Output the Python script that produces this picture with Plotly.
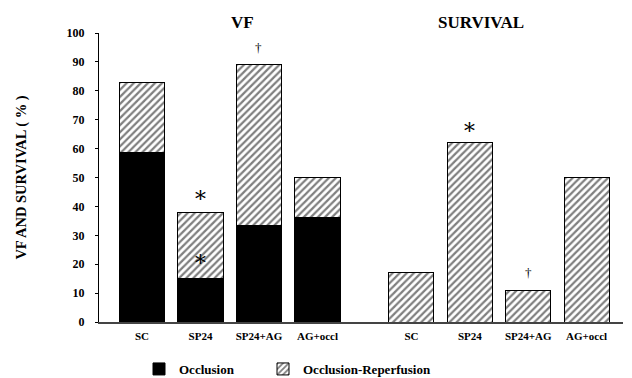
import plotly.graph_objects as go

groups = ["SC", "SP24", "SP24+AG", "AG+occl"]
vf_total = [83, 38, 89, 50]
vf_occlusion = [58.5, 15, 33.5, 36]
survival = [17, 62, 11, 50]

vf_reperf = [t - o for t, o in zip(vf_total, vf_occlusion)]

FONT = "Liberation Serif"
hatch = dict(shape="/", fgcolor="black", bgcolor="white", size=5, solidity=0.45)

fig = go.Figure()
fig.add_trace(go.Bar(x=groups, y=vf_occlusion, name="Occlusion", xaxis="x", yaxis="y",
                     marker=dict(color="black", line=dict(color="black", width=1)),
                     width=0.77, legend="legend"))
fig.add_trace(go.Bar(x=groups, y=vf_reperf, name="Occlusion-Reperfusion", xaxis="x", yaxis="y",
                     marker=dict(color="white", pattern=hatch, line=dict(color="black", width=1)),
                     width=0.77, legend="legend2"))
fig.add_trace(go.Bar(x=groups, y=survival, name="Occlusion-Reperfusion", xaxis="x2", yaxis="y",
                     marker=dict(color="white", pattern=hatch, line=dict(color="black", width=1)),
                     width=0.77, showlegend=False))

split = 265 / 524
axis_common = dict(showline=True, linecolor="#444", linewidth=1.5, ticks="", showgrid=False,
                   zeroline=False, type="category", automargin=False, ticklabelstandoff=3,
                   tickfont=dict(family=FONT, size=11, color="black", weight="bold"))
leg_font = dict(family=FONT, size=13, color="black", weight="bold")
fig.update_layout(
    width=632, height=378,
    margin=dict(l=99, r=9, t=33, b=56),
    paper_bgcolor="white", plot_bgcolor="white",
    barmode="stack",
    xaxis=dict(domain=[0, split], range=[-0.735, 3.795], **axis_common),
    xaxis2=dict(domain=[split, 1], range=[-0.812, 3.624], anchor="y", **axis_common),
    yaxis=dict(range=[0, 100], dtick=10, showline=True, linecolor="black", linewidth=1,
               ticks="outside", ticklen=3, tickcolor="black", showgrid=False, zeroline=False,
               ticklabelstandoff=8, automargin=False,
               tickfont=dict(family=FONT, size=12, color="black", weight="bold"),
               title=dict(text="VF AND SURVIVAL ( % )", standoff=36,
                          font=dict(family=FONT, size=14.5, color="black", weight="bold"))),
    legend=dict(orientation="h", xref="container", yref="container", x=139 / 632,
                y=1 - 369 / 378, xanchor="left", yanchor="middle", font=leg_font),
    legend2=dict(orientation="h", xref="container", yref="container", x=263 / 632,
                 y=1 - 369 / 378, xanchor="left", yanchor="middle", font=leg_font),
    showlegend=True,
)

annots = [
    dict(text="VF", x=0.54, xref="x domain", y=1.035, yref="paper", size=17, bold=True, fam=FONT),
    dict(text="SURVIVAL", x=0.452, xref="x2 domain", y=1.035, yref="paper", size=17, bold=True, fam=FONT),
    dict(text="∗", x="SP24", xref="x", y=44, yref="y", size=22, bold=False, fam="DejaVu Serif"),
    dict(text="∗", x="SP24", xref="x", y=22, yref="y", size=22, bold=False, fam="DejaVu Serif"),
    dict(text="†", x="SP24+AG", xref="x", y=95, yref="y", size=13, bold=False, fam=FONT),
    dict(text="∗", x="SP24", xref="x2", y=67.5, yref="y", size=22, bold=False, fam="DejaVu Serif"),
    dict(text="†", x="SP24+AG", xref="x2", y=17, yref="y", size=13, bold=False, fam=FONT),
]
for a in annots:
    fig.add_annotation(text=a["text"], x=a["x"], xref=a["xref"], y=a["y"], yref=a["yref"],
                       showarrow=False, xanchor="center", yanchor="middle",
                       font=dict(size=a["size"], weight="bold" if a["bold"] else "normal",
                                 family=a["fam"], color="black"))

fig.write_html("out.html")
